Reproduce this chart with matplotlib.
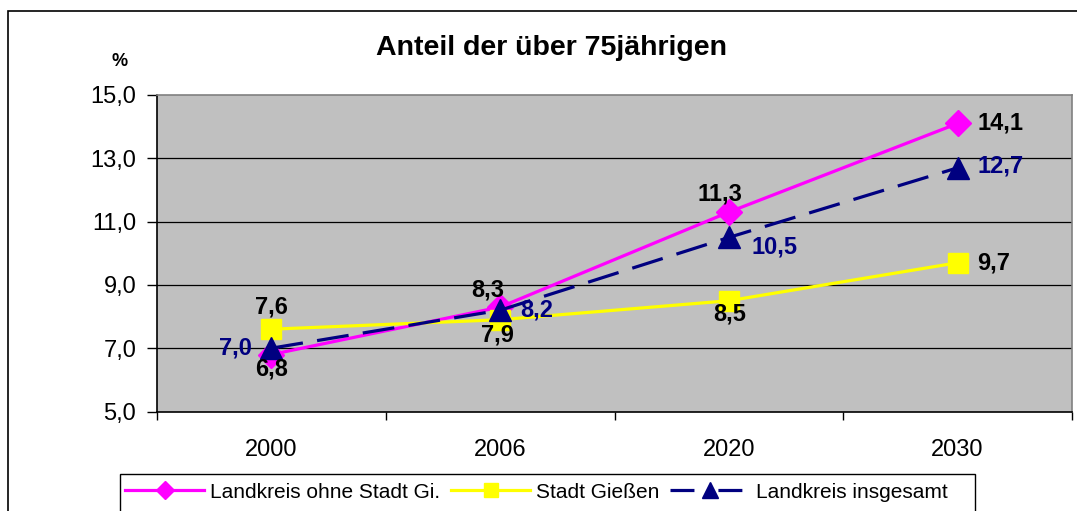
import matplotlib
matplotlib.use('Agg')
import matplotlib.pyplot as plt
from matplotlib.lines import Line2D
from matplotlib.patches import Rectangle

plt.rcParams['font.family'] = ['Liberation Sans', 'DejaVu Sans']

# data
years = ["2000", "2006", "2020", "2030"]
landkreis_ohne = [6.8, 8.3, 11.3, 14.1]
stadt_giessen = [7.6, 7.9, 8.5, 9.7]
landkreis_gesamt = [7.0, 8.2, 10.5, 12.7]
y_ticks = [5.0, 7.0, 9.0, 11.0, 13.0, 15.0]

MAGENTA = "#FF00FF"
YELLOW = "#FFFF00"
NAVY = "#000080"

W, H = 1077, 511
fig = plt.figure(figsize=(W / 100, H / 100), dpi=100)
fig.patch.set_facecolor("white")

def px(x0, y0, x1, y1):
    # pixel box (top-left origin) -> figure fraction [left, bottom, width, height]
    return [x0 / W, 1 - y1 / H, (x1 - x0) / W, (y1 - y0) / H]

ax = fig.add_axes(px(157, 95, 1072, 411.5))
ax.set_facecolor("#C0C0C0")

x = list(range(len(years)))

ax.plot(x, landkreis_ohne, color=MAGENTA, lw=2.3, marker="D", ms=13,
        mec=MAGENTA, mfc=MAGENTA, zorder=3)
ax.plot(x, stadt_giessen, color=YELLOW, lw=2.3, marker="s", ms=14,
        mec=YELLOW, mfc=YELLOW, zorder=4)
ax.plot(x, landkreis_gesamt, color=NAVY, lw=2.3, ls=(0, (10, 4.5)), marker="^", ms=16,
        mec=NAVY, mfc=NAVY, zorder=5)

def lbl(v, i, dx, dy, color="black", ha="center"):
    ax.annotate(f"{v:.1f}".replace(".", ","), (i, v), xytext=(dx, dy),
                textcoords="offset pixels", ha=ha, va="center",
                fontsize=17, fontweight="bold", color=color, zorder=6)

# label offsets in pixels
lbl(landkreis_ohne[0], 0, 0, -14)
lbl(landkreis_ohne[1], 1, -12, 17)
lbl(landkreis_ohne[2], 2, -9, 18)
lbl(landkreis_ohne[3], 3, 20, 0, ha="left")
lbl(stadt_giessen[0], 0, 0, 22)
lbl(stadt_giessen[1], 1, -3, -15)
lbl(stadt_giessen[2], 2, 1, -13)
lbl(stadt_giessen[3], 3, 20, 0, ha="left")
lbl(landkreis_gesamt[0], 0, -19, 0, color=NAVY, ha="right")
lbl(landkreis_gesamt[1], 1, 20, 0, color=NAVY, ha="left")
lbl(landkreis_gesamt[2], 2, 23, -10, color=NAVY, ha="left")
lbl(landkreis_gesamt[3], 3, 20, 2, color=NAVY, ha="left")

ax.set_xlim(-0.5, len(years) - 0.5)
ax.set_ylim(5, 15)
ax.set_yticks(y_ticks)
ax.set_yticklabels([f"{t:.1f}".replace(".", ",") for t in y_ticks], fontsize=17)
ax.set_xticks(x)
ax.set_xticklabels(years, fontsize=17)
ax.set_xticks([i - 0.5 for i in range(len(years) + 1)], minor=True)
ax.tick_params(axis="x", which="major", length=0, pad=20)
ax.tick_params(axis="x", which="minor", length=6, width=1, direction="out")
ax.tick_params(axis="y", length=7, width=1, direction="out", pad=8)

for yv in y_ticks[1:-1]:
    ax.axhline(yv, color="black", lw=0.9, zorder=1)

ax.spines["left"].set_color("black")
ax.spines["bottom"].set_color("black")
ax.spines["top"].set_color("#808080")
ax.spines["right"].set_color("#808080")
for s in ax.spines.values():
    s.set_linewidth(1.2)

fig.text(551 / W, 1 - 48 / H, "Anteil der über 75jährigen", ha="center", va="center",
         fontsize=20.5, fontweight="bold")
fig.text(120 / W, 1 - 62 / H, "%", ha="center", va="center", fontsize=13, fontweight="bold")

# outer chart border (cut off at right and bottom)
fig.add_artist(Rectangle((8 / W, -0.2), 1.2, 1.2 - 11 / H, transform=fig.transFigure,
                         fill=False, ec="black", lw=1.2, clip_on=False))

# legend box, also cut off at the bottom
fig.add_artist(Rectangle((120 / W, -0.1), (975 - 120) / W, 0.1 + 1 - 474 / H,
                         transform=fig.transFigure, fill=False, ec="black", lw=1.0,
                         clip_on=False))
handles = [
    Line2D([], [], color=MAGENTA, lw=2.3, marker="D", ms=9, mec=MAGENTA, mfc=MAGENTA),
    Line2D([], [], color=YELLOW, lw=2.3, marker="s", ms=10, mec=YELLOW, mfc=YELLOW),
    Line2D([], [], color=NAVY, lw=2.3, ls=(0, (7.5, 7.5)), marker="^", ms=11, mec=NAVY, mfc=NAVY),
]
fig.legend(handles, ["Landkreis ohne Stadt Gi.", "Stadt Gießen", "Landkreis insgesamt"],
           loc="center left", bbox_to_anchor=(125 / W, 1 - 492 / H), ncol=3,
           frameon=False, fontsize=15, handlelength=3.8, handletextpad=0.3,
           columnspacing=0.5, borderpad=0, borderaxespad=0)

fig.savefig("out.png", dpi=100)
